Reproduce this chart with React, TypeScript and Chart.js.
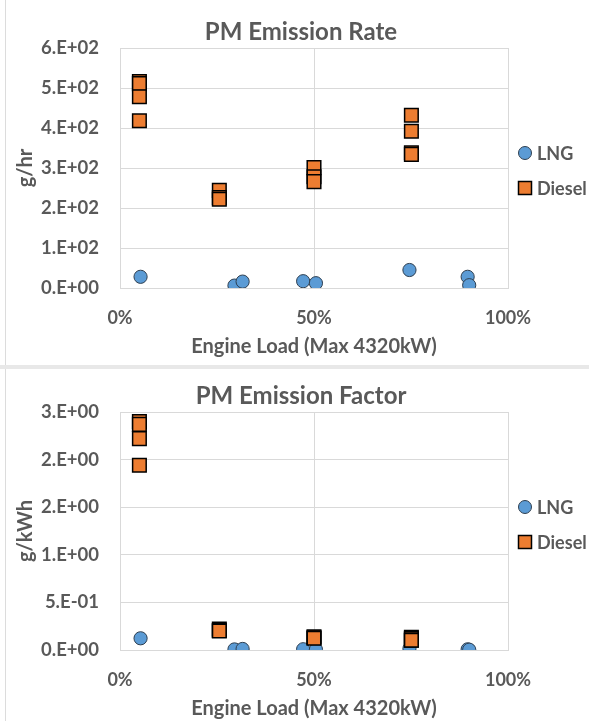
import React, { useEffect, useRef } from 'react';
import { Chart, registerables } from 'chart.js';

Chart.register(...registerables);

// ---- Data (engine load in % of 4320 kW) ----
const lngLoad = [5.3, 29.5, 31.6, 47.2, 50.5, 74.6, 89.6, 90.0];
const lngRate = [28, 6, 16, 17, 12, 45, 28, 7]; // g/hr
const lngFactor = [0.123, 0.006, 0.011, 0.008, 0.006, 0.014, 0.007, 0.003]; // g/kWh

const dieselLoad = [5.0, 5.0, 5.0, 5.0, 25.6, 25.6, 25.6, 50.0, 50.0, 50.0, 75.1, 75.1, 75.1, 75.1];
const dieselRate = [516, 511, 478, 418, 244, 226, 222, 301, 278, 266, 432, 392, 338, 334]; // g/hr
const dieselFactor = [2.4, 2.37, 2.22, 1.94, 0.221, 0.204, 0.2, 0.139, 0.129, 0.123, 0.133, 0.121, 0.104, 0.103]; // g/kWh

const seriesNames = ['LNG', 'Diesel'];
const xTickValues = [0, 50, 100];
const xTitle = 'Engine Load (Max 4320kW)';

const FONT = 'Lato';
const TEXT = '#595959';
const GRID = '#d9d9d9';
const LNG_FILL = '#5b9bd5';
const LNG_EDGE = '#2f3f50';
const DIESEL_FILL = '#ed7d31';
const DIESEL_EDGE = '#000000';

function sci(v: number): string {
  if (Math.abs(v) < 1e-12) return '0.E+00';
  let e = Math.floor(Math.log10(Math.abs(v)) + 1e-12);
  let m = Math.round(v / Math.pow(10, e) + 1e-9);
  if (m >= 10) {
    m = m / 10;
    e += 1;
  }
  const sign = e < 0 ? '-' : '+';
  const ae = Math.abs(e);
  return `${m}.E${sign}${ae < 10 ? '0' + ae : ae}`;
}

const decorPlugin = {
  id: 'decor',
  afterDraw(chart: any, _args: any, opts: any) {
    const { ctx, chartArea } = chart;
    ctx.save();
    // title
    ctx.fillStyle = TEXT;
    ctx.font = `bold 24px ${FONT}`;
    ctx.textAlign = 'center';
    ctx.textBaseline = 'middle';
    ctx.fillText(opts.title, (chartArea.left + chartArea.right) / 2 - 13, opts.titleY);
    // legend
    const cy = (chartArea.top + chartArea.bottom) / 2 + (opts.offset || 0);
    const gap = 35;
    chart.data.datasets.forEach((ds: any, i: number) => {
      const y = cy + i * gap;
      const x = chartArea.right + 17;
      ctx.beginPath();
      if (ds.pointStyle === 'rect') {
        const s = 6.5;
        ctx.rect(x - s, y - s, 2 * s, 2 * s);
      } else {
        ctx.arc(x, y, 6.5, 0, Math.PI * 2);
      }
      ctx.fillStyle = ds.backgroundColor;
      ctx.fill();
      ctx.lineWidth = ds.borderWidth;
      ctx.strokeStyle = ds.borderColor;
      ctx.stroke();
      ctx.fillStyle = TEXT;
      ctx.font = `bold 18px ${FONT}`;
      ctx.textBaseline = 'middle';
      ctx.textAlign = 'left';
      ctx.fillText(ds.label, chartArea.right + 29, y + 1);
    });
    ctx.restore();
  },
};

type PanelProps = {
  title: string;
  yTitle: string;
  lng: number[];
  diesel: number[];
  yMax: number;
  yStep: number;
  width: number;
  height: number;
  plotTop: number;
  titleY: number;
  legendOffset: number;
};

function ChartPanel(p: PanelProps) {
  const ref = useRef<HTMLCanvasElement | null>(null);
  useEffect(() => {
    if (!ref.current) return;
    const chart = new Chart(ref.current, {
      type: 'scatter',
      data: {
        datasets: [
          {
            label: seriesNames[0],
            data: lngLoad.map((x, i) => ({ x, y: p.lng[i] })),
            pointStyle: 'circle',
            pointRadius: 6.6,
            pointHoverRadius: 6.6,
            backgroundColor: LNG_FILL,
            borderColor: LNG_EDGE,
            borderWidth: 1,
            order: 1,
          },
          {
            label: seriesNames[1],
            data: dieselLoad.map((x, i) => ({ x, y: p.diesel[i] })),
            pointStyle: 'rect',
            pointRadius: 9.6,
            pointHoverRadius: 9.6,
            backgroundColor: DIESEL_FILL,
            borderColor: DIESEL_EDGE,
            borderWidth: 1.5,
            order: 0,
          },
        ],
      },
      options: {
        responsive: false,
        animation: false,
        layout: { padding: { left: 0, right: 81, top: p.plotTop, bottom: 0 } },
        plugins: {
          legend: { display: false },
          tooltip: { enabled: false },
          title: { display: false },
          decor: { offset: p.legendOffset, title: p.title, titleY: p.titleY },
        } as any,
        scales: {
          x: {
            type: 'linear',
            min: 0,
            max: 100,
            afterBuildTicks: (s: any) => {
              s.ticks = xTickValues.map((v) => ({ value: v }));
            },
            afterFit: (s: any) => {
              s.height = 71;
            },
            ticks: {
              color: TEXT,
              padding: 19,
              font: { family: FONT, size: 18, weight: 'bold' },
              callback: (v: any) => `${v}%`,
            },
            grid: { color: GRID, lineWidth: 1, drawTicks: false },
            border: { color: GRID },
            title: {
              display: true,
              text: xTitle,
              color: TEXT,
              font: { family: FONT, size: 20, weight: 'bold', lineHeight: 1.2 },
              padding: { top: 0, bottom: 0 },
            },
          },
          y: {
            type: 'linear',
            min: 0,
            max: p.yMax,
            afterFit: (s: any) => {
              s.width = 120;
            },
            ticks: {
              stepSize: p.yStep,
              color: TEXT,
              padding: 21,
              font: { family: FONT, size: 18.5, weight: 'bold' },
              callback: (v: any) => sci(Number(v)),
            },
            grid: { color: GRID, lineWidth: 1, drawTicks: false },
            border: { color: GRID },
            title: {
              display: true,
              text: p.yTitle,
              color: TEXT,
              font: { family: FONT, size: 20, weight: 'bold', lineHeight: 1.2 },
              padding: { top: 14, bottom: 0 },
            },
          },
        },
      },
      plugins: [decorPlugin],
    });
    return () => chart.destroy();
  }, []);
  return <canvas ref={ref} width={p.width} height={p.height} style={{ display: 'block' }} />;
}

export default function App() {
  return (
    <div
      style={{
        position: 'fixed',
        left: 0,
        top: 0,
        width: 589,
        height: 721,
        background: '#ffffff',
        overflow: 'hidden',
      }}
    >
      <div style={{ position: 'absolute', left: 5, top: 0, width: 1, height: 721, background: '#dcdcdc' }} />
      <div style={{ position: 'absolute', left: 0, top: 365, width: 589, height: 4, background: '#e8e8e8' }} />
      <div style={{ position: 'absolute', left: 0, top: 0 }}>
        <ChartPanel
          title="PM Emission Rate"
          yTitle="g/hr"
          lng={lngRate}
          diesel={dieselRate}
          yMax={600}
          yStep={100}
          width={589}
          height={359}
          plotTop={48}
          titleY={32}
          legendOffset={-15}
        />
      </div>
      <div style={{ position: 'absolute', left: 0, top: 369 }}>
        <ChartPanel
          title="PM Emission Factor"
          yTitle="g/kWh"
          lng={lngFactor}
          diesel={dieselFactor}
          yMax={2.5}
          yStep={0.5}
          width={589}
          height={352}
          plotTop={43}
          titleY={27}
          legendOffset={-24}
        />
      </div>
    </div>
  );
}
